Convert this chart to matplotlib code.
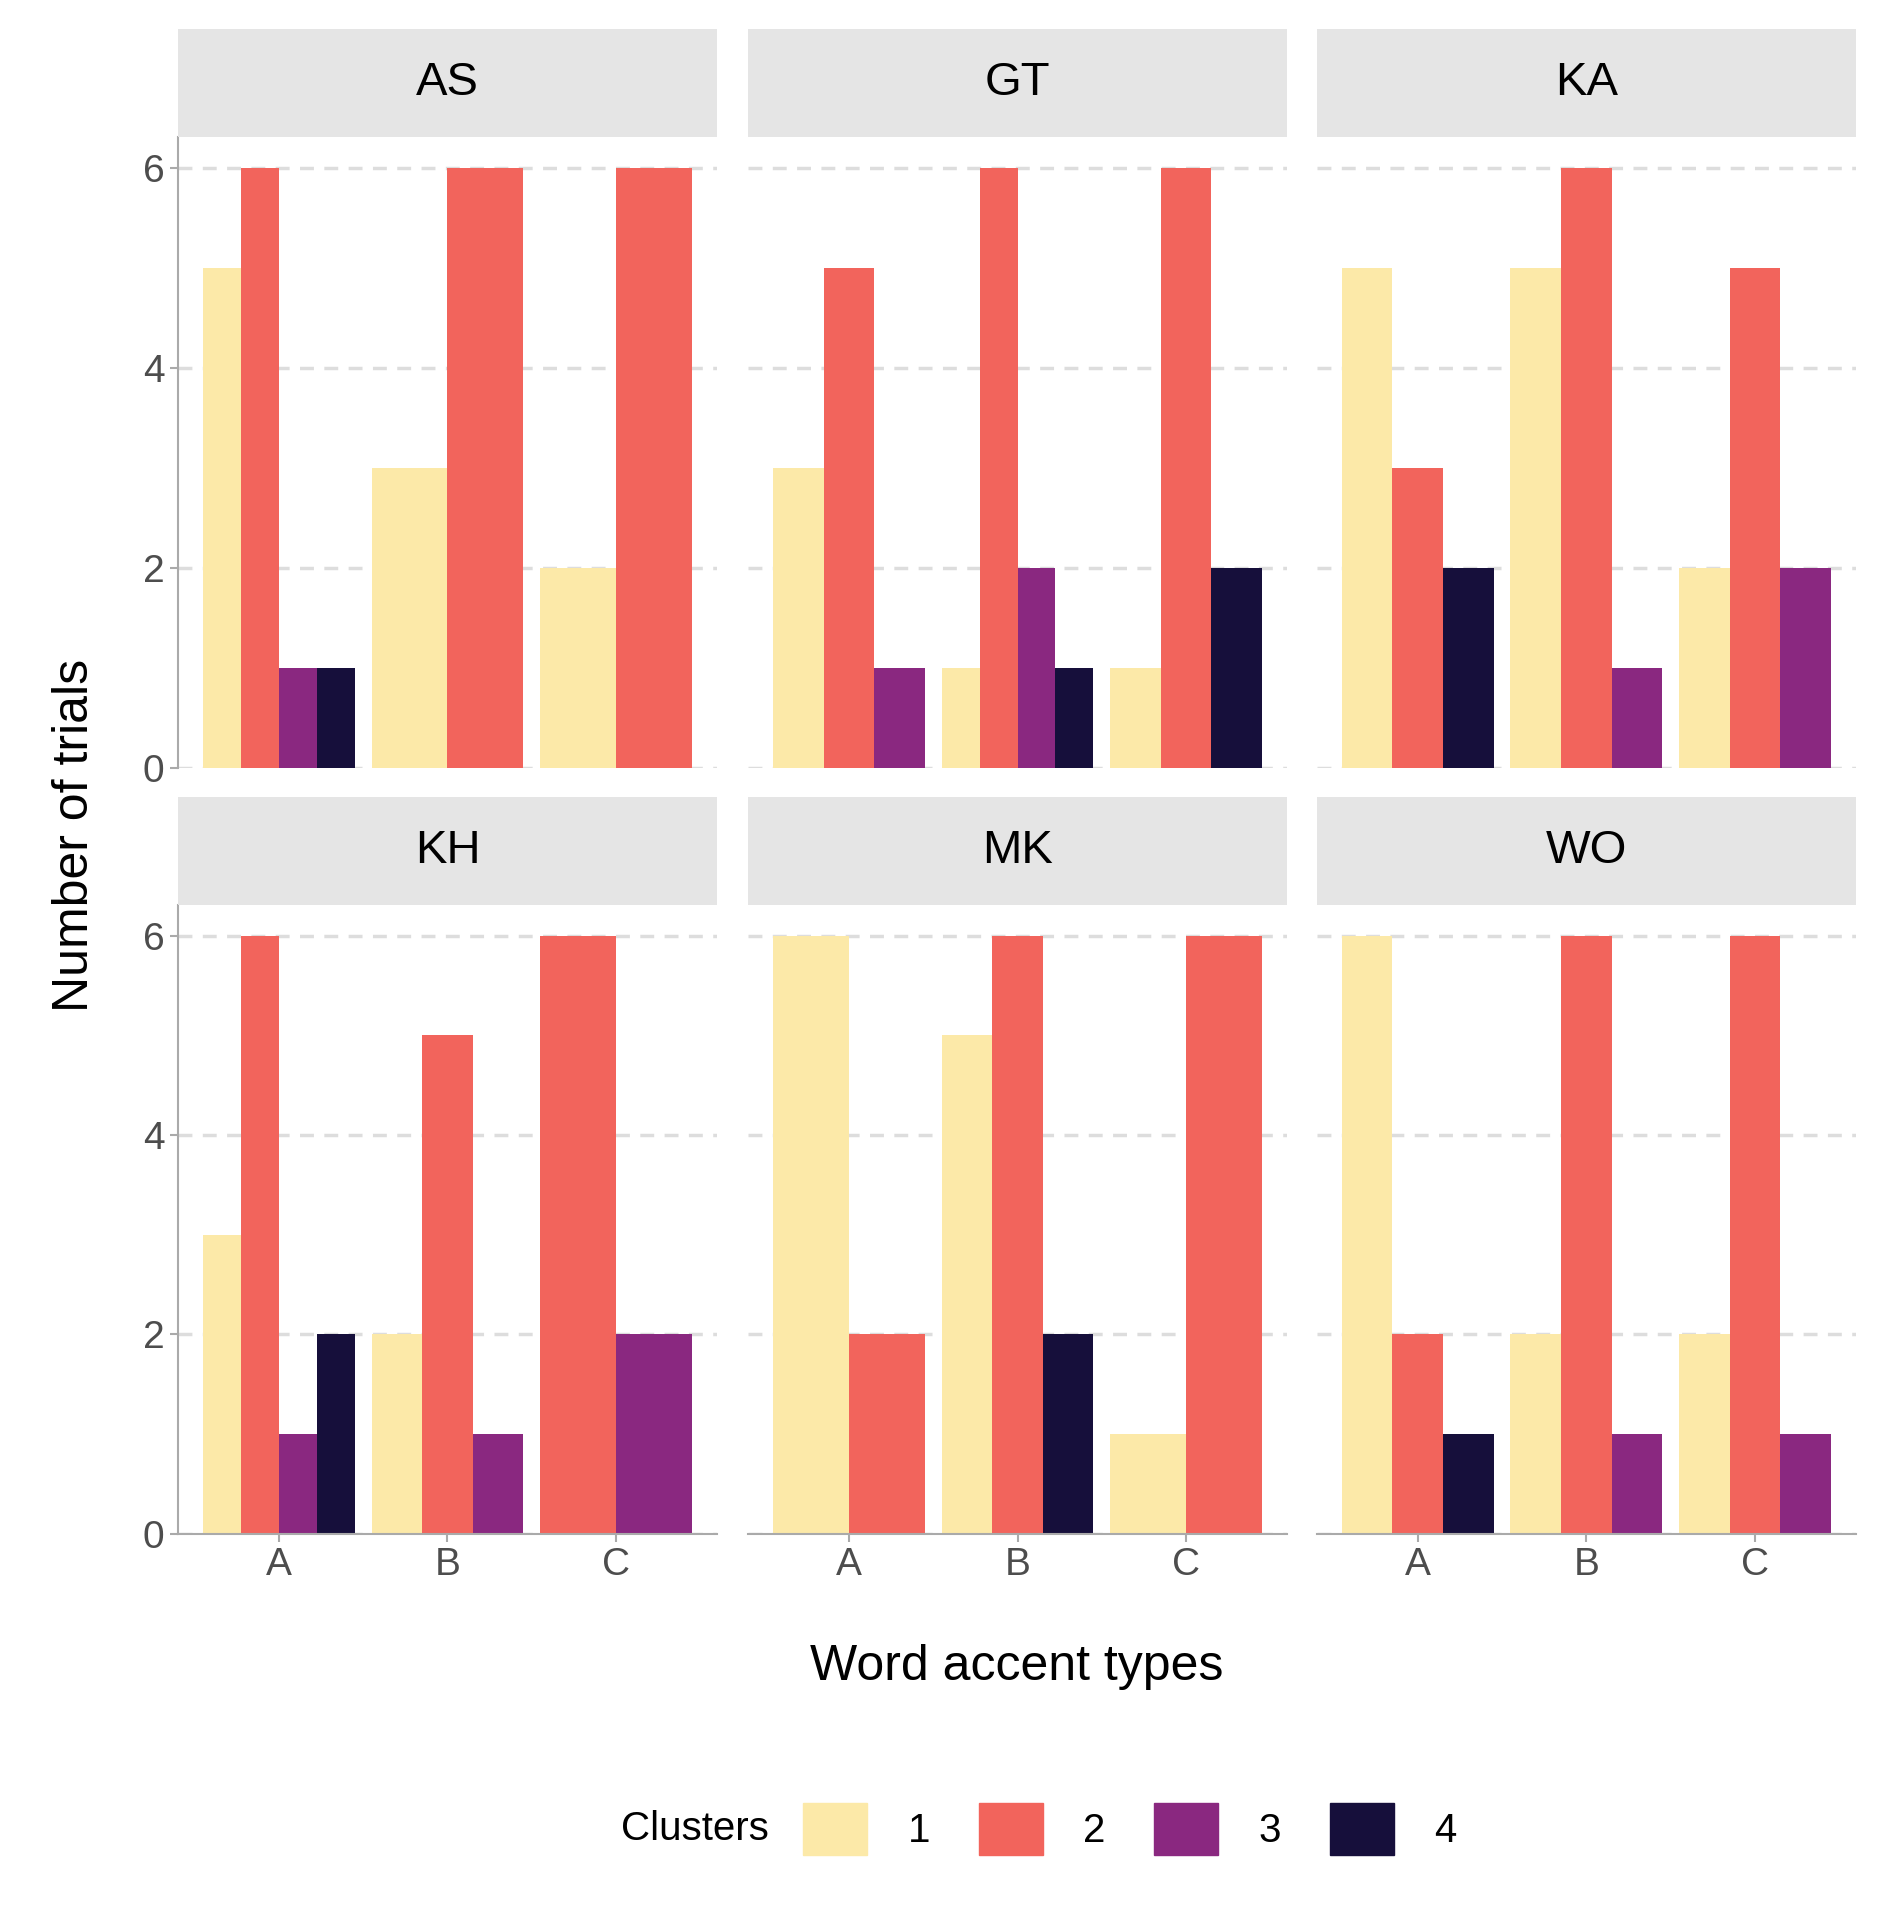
import numpy as np
import matplotlib.pyplot as plt
from matplotlib.patches import Patch

plt.rcParams['font.family'] = ['Liberation Sans', 'DejaVu Sans']

speakers = ['AS', 'GT', 'KA', 'KH', 'MK', 'WO']
accents = ['A', 'B', 'C']
clusters = ['1', '2', '3', '4']
colors = ['#FCE9A8', '#F2645C', '#8A2880', '#160F3B']

# counts[speaker][accent] = values per cluster (0 = absent)
counts = {
    'AS': [[5, 6, 1, 1], [3, 6, 0, 0], [2, 6, 0, 0]],
    'GT': [[3, 5, 1, 0], [1, 6, 2, 1], [1, 6, 0, 2]],
    'KA': [[5, 3, 0, 2], [5, 6, 1, 0], [2, 5, 2, 0]],
    'KH': [[3, 6, 1, 2], [2, 5, 1, 0], [0, 6, 2, 0]],
    'MK': [[6, 2, 0, 0], [5, 6, 0, 2], [1, 6, 0, 0]],
    'WO': [[6, 2, 0, 1], [2, 6, 1, 0], [2, 6, 1, 0]],
}

fig = plt.figure(figsize=(18.83, 19.2), dpi=100)
W, H = 1536, 1566
lefts = [145, 610, 1074]
pw = 440
rows = [(112, 626), (738, 1251)]
strip_h = 88

for i, sp in enumerate(speakers):
    r, c = divmod(i, 3)
    top, bot = rows[r]
    ax = fig.add_axes([lefts[c] / W, 1 - bot / H, pw / W, (bot - top) / H])
    for g, vals in enumerate(counts[sp]):
        present = [k for k in range(4) if vals[k] > 0]
        n = len(present)
        bw = 0.9 / n
        for j, k in enumerate(present):
            x = g - 0.45 + bw * (j + 0.5)
            ax.bar(x, vals[k], width=bw, color=colors[k], zorder=2)
    ax.set_xlim(-0.6, 2.6)
    ax.set_ylim(0, 6.31)
    ax.set_yticks([0, 2, 4, 6])
    ax.set_xticks(range(3))
    for y in [0, 2, 4, 6]:
        ax.axhline(y, color='#DDDDDD', lw=2.5, ls=(0, (4, 3)), zorder=1)
    for s in ax.spines.values():
        s.set_visible(False)
    ax.tick_params(labelsize=28, colors='#4D4D4D', length=6, width=1.5)
    ax.tick_params(axis='both', color='#AAAAAA')
    if c == 0:
        ax.spines['left'].set_visible(True)
        ax.spines['left'].set_color('#AAAAAA')
        ax.spines['left'].set_linewidth(1.5)
    else:
        ax.set_yticklabels([])
        ax.tick_params(axis='y', length=0)
    if r == 1:
        ax.spines['bottom'].set_visible(True)
        ax.spines['bottom'].set_color('#AAAAAA')
        ax.spines['bottom'].set_linewidth(1.5)
        ax.set_xticklabels(accents)
    else:
        ax.set_xticklabels([])
        ax.tick_params(axis='x', length=0)
    sax = fig.add_axes([lefts[c] / W, 1 - top / H, pw / W, strip_h / H * 0.99 + 0.0005])
    sax.set_position([lefts[c] / W, 1 - (top - 0) / H, pw / W, strip_h / H])
    sax.set_facecolor('#E5E5E5')
    sax.set_xticks([]); sax.set_yticks([])
    for s in sax.spines.values():
        s.set_visible(False)
    sax.text(0.5, 0.5, sp, ha='center', va='center', fontsize=34, transform=sax.transAxes)

fig.text(0.04, (1 - 112 / H + 1 - 1251 / H) / 2, 'Number of trials', rotation=90,
         ha='center', va='center', fontsize=36)
fig.text((145 + 1514) / 2 / W, 1 - 1360 / H, 'Word accent types', ha='center', va='center', fontsize=36)

fig.text(0.369, 1 - 1492 / H, 'Clusters', ha='center', va='center', fontsize=29)
handles = [Patch(color=colors[k], label=clusters[k]) for k in range(4)]
fig.legend(handles=handles, loc='center', bbox_to_anchor=(0.6, 1 - 1492 / H), ncol=4,
           frameon=False, fontsize=29, handlelength=1.6, handleheight=1.6,
           columnspacing=1.2, handletextpad=1.0)

fig.savefig('out.png', dpi=100)
